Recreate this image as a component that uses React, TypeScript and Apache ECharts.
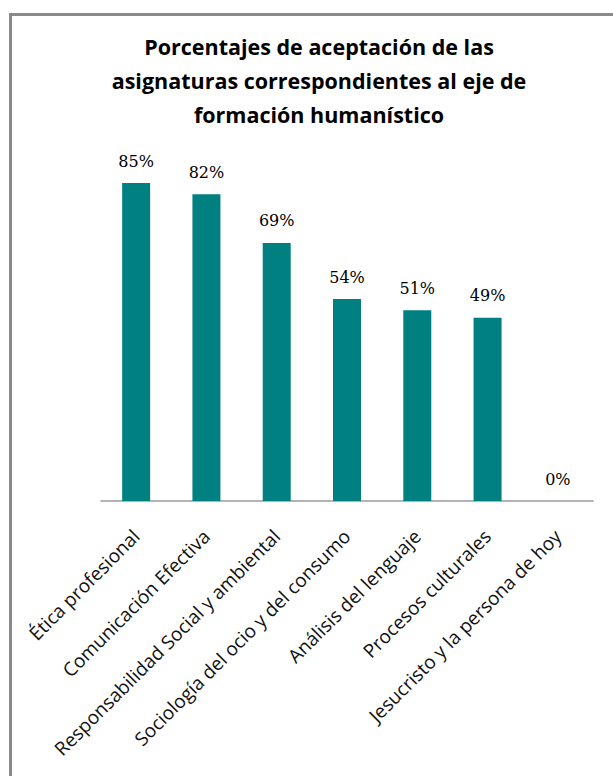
import React, { useEffect, useRef } from "react";
import * as echarts from "echarts";

const titleLines = [
  "Porcentajes de aceptación de las",
  "asignaturas correspondientes al eje de",
  "formación humanístico",
];
const categories = [
  "Ética profesional",
  "Comunicación Efectiva",
  "Responsabilidad Social y ambiental",
  "Sociología del ocio y del consumo",
  "Análisis del lenguaje",
  "Procesos culturales",
  "Jesucristo y la persona de hoy",
];
const values = [85, 82, 69, 54, 51, 49, 0];

export default function App() {
  const ref = useRef<HTMLDivElement>(null);
  useEffect(() => {
    if (!ref.current) return;
    const chart = echarts.init(ref.current, null, { renderer: "svg" });
    chart.setOption({
      animation: false,
      backgroundColor: "#ffffff",
      title: {
        text: titleLines.join("\n"),
        left: 314,
        top: 24,
        textAlign: "center",
        textStyle: {
          fontFamily: "Open Sans",
          fontWeight: "bold",
          fontSize: 21.5,
          lineHeight: 34,
          color: "#000000",
        },
      },
      graphic: [
        {
          type: "rect",
          shape: { x: 10.5, y: 14.5, width: 700, height: 800 },
          style: { fill: "none", stroke: "#8a8a8a", lineWidth: 3 },
          silent: true,
        },
      ],
      grid: { left: 101, right: 20, top: 127, bottom: 275, containLabel: false },
      xAxis: {
        type: "category",
        data: categories,
        axisLine: { show: true, lineStyle: { color: "#9a9a9a", width: 1.5 } },
        axisTick: { show: false },
        axisLabel: {
          rotate: 45,
          interval: 0,
          margin: 32,
          padding: [22, 0, 0, 0],
          fontFamily: "Open Sans",
          fontSize: 19,
          color: "#111111",
        },
      },
      yAxis: {
        type: "value",
        min: 0,
        max: 100,
        show: false,
        splitLine: { show: false },
      },
      series: [
        {
          type: "bar",
          data: values,
          barWidth: 28,
          itemStyle: { color: "#008080" },
          label: {
            show: true,
            position: "top",
            distance: 14,
            formatter: "{c}%",
            fontFamily: "DejaVu Serif",
            fontSize: 16,
            color: "#000000",
          },
        },
      ],
    });
    return () => chart.dispose();
  }, []);
  return (
    <div style={{ position: "fixed", left: 0, top: 0, width: 613, height: 776, overflow: "hidden" }}>
      <div ref={ref} style={{ width: 613, height: 776 }} />
    </div>
  );
}
